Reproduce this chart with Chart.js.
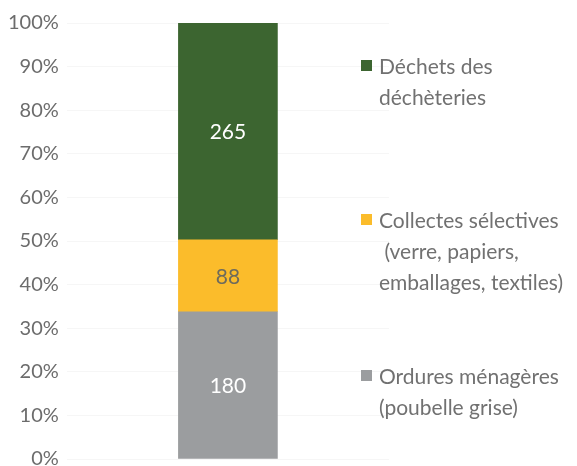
<!DOCTYPE html>
<html>
<head>
<meta charset="utf-8">
<script src="https://cdn.jsdelivr.net/npm/chart.js@4.4.0/dist/chart.umd.min.js"></script>
<style>
  html, body { margin: 0; padding: 0; background: #fff; overflow: hidden; }
  #wrap { width: 577px; height: 466px; position: relative; }
</style>
</head>
<body>
<div id="wrap"><canvas id="chart"></canvas></div>
<script>
// stacked from the bottom up
const categories = ['Déchets'];
const seriesNames = [
  ['Ordures ménagères', '(poubelle grise)'],
  ['Collectes sélectives', ' (verre, papiers,', 'emballages, textiles)'],
  ['Déchets des', 'déchèteries']
];
const seriesValues = [180, 88, 265];
const seriesColors = ['#9b9d9f', '#fbbc2b', '#3c6530'];
const valueColors = ['#ffffff', '#6e6b5c', '#ffffff'];
const yTicks = [0, 10, 20, 30, 40, 50, 60, 70, 80, 90, 100];

const total = seriesValues.reduce((a, b) => a + b, 0);

const datasets = seriesValues.map((v, i) => ({
  label: seriesNames[i],
  data: [v / total * 100],
  raw: v,
  backgroundColor: seriesColors[i],
  borderWidth: 0,
  barThickness: 99
}));

// value labels in the middle of each segment
const valueLabels = {
  id: 'valueLabels',
  afterDatasetsDraw(chart) {
    const ctx = chart.ctx;
    ctx.save();
    ctx.font = '21px Lato';
    ctx.textAlign = 'center';
    ctx.textBaseline = 'middle';
    chart.data.datasets.forEach((ds, i) => {
      const bar = chart.getDatasetMeta(i).data[0];
      ctx.fillStyle = valueColors[i];
      ctx.fillText(String(ds.raw), bar.x, (bar.y + bar.base) / 2 + 1);
    });
    ctx.restore();
  }
};

// legend on the right, top entry first like the reference
const sideLegend = {
  id: 'sideLegend',
  afterDraw(chart) {
    const ctx = chart.ctx;
    const tops = [377, 221, 67]; // first line centre per series
    ctx.save();
    ctx.font = '21px Lato';
    ctx.textBaseline = 'middle';
    ctx.textAlign = 'left';
    chart.data.datasets.forEach((ds, i) => {
      const y0 = tops[i];
      ctx.fillStyle = ds.backgroundColor;
      ctx.fillRect(361, y0 - 7, 11, 11);
      ctx.fillStyle = '#717171';
      ds.label.forEach((line, j) => {
        ctx.fillText(line, 379, y0 + j * 31);
      });
    });
    ctx.restore();
  }
};

new Chart(document.getElementById('chart'), {
  type: 'bar',
  data: { labels: categories, datasets: datasets },
  options: {
    responsive: true,
    maintainAspectRatio: false,
    animation: false,
    layout: { padding: { left: 0, right: 188, top: 23, bottom: 7 } },
    plugins: {
      legend: { display: false },
      tooltip: { enabled: false }
    },
    scales: {
      x: {
        stacked: true,
        display: false
      },
      y: {
        stacked: true,
        min: 0,
        max: 100,
        afterBuildTicks(scale) {
          scale.ticks = yTicks.map(v => ({ value: v }));
        },
        afterFit(scale) {
          scale.paddingTop = 0;
          scale.paddingBottom = 0;
        },
        border: { display: false },
        grid: { color: '#f6f6f6', drawTicks: false },
        ticks: {
          padding: 8,
          color: '#6c6c6c',
          font: { family: 'Lato', size: 20 },
          callback: v => v + '%'
        }
      }
    }
  },
  plugins: [valueLabels, sideLegend]
});
</script>
</body>
</html>
